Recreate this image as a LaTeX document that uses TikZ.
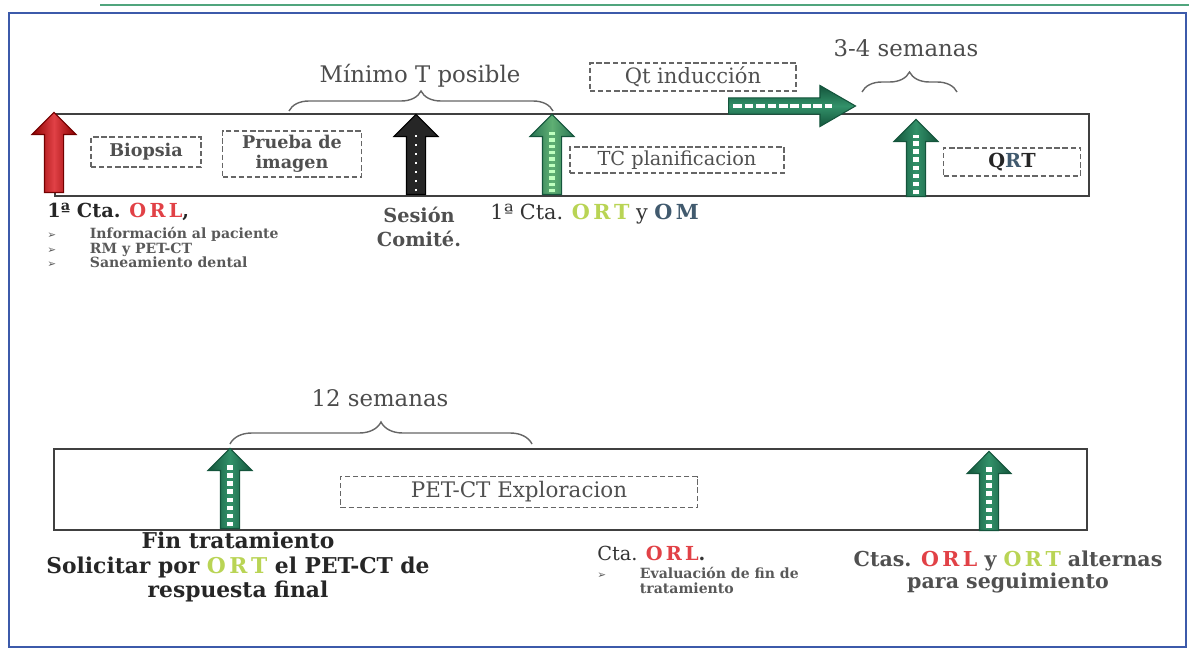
\documentclass[tikz,border=0pt]{standalone}
\usepackage{fontspec}
\setmainfont{DejaVu Serif}
\newfontfamily\symfont{DejaVu Sans}
\usetikzlibrary{positioning,shapes.arrows,decorations.pathreplacing}

\definecolor{frameblue}{RGB}{60,90,170}
\definecolor{framegreen}{RGB}{80,165,125}
\definecolor{orlred}{RGB}{225,65,70}
\definecolor{ortgreen}{RGB}{185,212,85}
\definecolor{omblue}{RGB}{65,90,110}
\definecolor{arrgreen}{RGB}{50,145,105}
\definecolor{arrgreendk}{RGB}{20,85,60}
\definecolor{arrlight}{RGB}{95,175,115}
\definecolor{txtgray}{RGB}{80,80,80}

\def\u{0.02cm}
\newcommand{\orl}{\textcolor{orlred}{O\,R\,L}}
\newcommand{\ort}{\textcolor{ortgreen}{O\,R\,T}}
\newcommand{\om}{\textcolor{omblue}{O\,M}}
\newcommand{\tip}{{\symfont\fontsize{6}{6}\selectfont ➢}}

\tikzset{
  timebox/.style={draw=black!75, line width=0.8pt},
  stagebox/.style={draw=black!60, dash pattern=on 3pt off 1.6pt, line width=1pt, inner sep=0pt,
    font=\bfseries\fontsize{10}{11.5}\selectfont, text=txtgray, align=center},
  markarrow/.style={single arrow, shape border rotate=90, inner xsep=9*\u, inner ysep=9*\u,
    anchor=tail, minimum width=38*\u, line width=0.6pt},
  greenarrow/.style={markarrow, draw=arrgreendk, left color=arrgreendk,
    right color=arrgreendk, middle color=arrgreen},
  stripes/.style={white, line width=3.2pt, dash pattern=on 2.6pt off 2pt,
    shorten <=1.5pt, shorten >=9pt},
  lbl/.style={inner sep=0pt, font=\bfseries\fontsize{11}{13.5}\selectfont, text=black!85},
  note/.style={inner sep=0pt, font=\bfseries\fontsize{8}{7.6}\selectfont, text=black!65},
  span/.style={decorate, decoration={brace, amplitude=#1}, draw=black!60, line width=0.8pt},
  spanlbl/.style={inner sep=0pt, font=\fontsize{13}{15}\selectfont, text=black!70}
}

\begin{document}
\begin{tikzpicture}[x=0.02cm, y=-0.02cm]
\useasboundingbox (0,0) rectangle (1189,652);

% outer frame
\draw[framegreen, line width=1.2pt] (100,5) -- (1189,5);
\draw[frameblue, line width=1.5pt] (9,13) rectangle (1186,647);

% ---------- upper timeline ----------
\draw[timebox] (55,114) rectangle (1089,196);

\node[stagebox, minimum width=110*\u, minimum height=30*\u] (biopsia) at (146,152) {Biopsia};
\node[stagebox, minimum width=139*\u, minimum height=46*\u] (prueba) at (292,154) {Prueba de\\imagen};
\node[stagebox, minimum width=214*\u, minimum height=26*\u, font=\fontsize{11}{13}\selectfont] (tcplan) at (677,160) {TC planificacion};
\node[stagebox, minimum width=137*\u, minimum height=28*\u, text=black!85, font=\bfseries\fontsize{11}{13}\selectfont] (qrt) at (1012,162) {Q\textcolor{omblue}{R}T};
\node[stagebox, minimum width=206*\u, minimum height=28*\u, font=\fontsize{12}{14}\selectfont] (qtind) at (693,77) {Qt inducción};

% stage arrows
\node[markarrow, draw=red!45!black, left color=red!55!black, right color=red!55!black,
  middle color=orlred, minimum height=80*\u] (orl1) at (54,193) {};
\node[markarrow, draw=black, fill=black!85, minimum height=80*\u] (comite) at (416,195) {};
\draw[white, line width=1.4pt, dash pattern=on 1.2pt off 4pt, shorten <=2pt, shorten >=8pt]
  (comite.tail) -- (comite.tip);
\node[markarrow, draw=arrgreendk, left color=arrgreen!80!black, right color=arrgreen!80!black,
  middle color=arrlight, minimum height=80*\u] (ort1) at (552,195) {};
\draw[stripes, green!25, dash pattern=on 2pt off 1.6pt] (ort1.tail) -- (ort1.tip);
\node[greenarrow, minimum height=77*\u] (qrtstart) at (916,197) {};
\draw[stripes] (qrtstart.tail) -- (qrtstart.tip);

% induction arrow
\node[single arrow, inner xsep=0pt, inner ysep=7.5*\u, anchor=tail, minimum width=23*\u,
  single arrow tip angle=60, minimum height=127*\u,
  draw=arrgreendk, top color=arrgreendk, bottom color=arrgreendk, middle color=arrgreen,
  line width=0.6pt] (induc) at (728,106) {};
\draw[white, line width=2pt, dash pattern=on 5pt off 1.5pt, shorten <=3pt, shorten >=14pt]
  (induc.tail) -- (induc.tip);

% spans
\coordinate (minA) at (289,111);
\coordinate (minB) at (553,111);
\draw[span=0.4cm] (minA) -- (minB);
\node[spanlbl] (minlbl) at (420,76) {Mínimo T posible};
\coordinate (semA) at (862,92);
\coordinate (semB) at (957,92);
\draw[span=0.4cm] (semA) -- (semB);
\node[spanlbl] (semlbl) at (906,48) {3-4 semanas};

% labels under upper timeline
\node[lbl, anchor=west] (cta1) at (47,212) {1ª Cta. \orl,};
\node[note, anchor=north west] (info) at (47,227) {%
  \begin{tabular}{@{}l@{\hspace{2.4em}}l@{}}
  \tip & Información al paciente\\
  \tip & RM y PET-CT\\
  \tip & Saneamiento dental
  \end{tabular}};
\node[lbl, text=txtgray, align=center, font=\bfseries\fontsize{11}{14}\selectfont] (sesion) at (419,227) {Sesión\\Comité.};
\node[lbl, anchor=west, font=\fontsize{11.8}{13}\selectfont, text=black!80] (cta2) at (490,214) {1ª Cta. \textbf{\ort} y \textbf{\om}};

% ---------- lower timeline ----------
\draw[timebox] (54,449) rectangle (1087,530);

\node[stagebox, minimum width=357*\u, minimum height=31*\u, font=\fontsize{12.2}{14}\selectfont] (petct) at (519,492) {PET-CT Exploracion};

\node[greenarrow, minimum height=80*\u] (fintrat) at (230,529) {};
\draw[stripes] (fintrat.tail) -- (fintrat.tip);
\node[greenarrow, minimum height=79*\u] (seguim) at (989,531) {};
\draw[stripes] (seguim.tail) -- (seguim.tip);

\coordinate (wkA) at (230,444);
\coordinate (wkB) at (532,444);
\draw[span=0.44cm] (wkA) -- (wkB);
\node[spanlbl] (wklbl) at (380,398) {12 semanas};

\node[lbl, align=center, font=\bfseries\fontsize{12.4}{14}\selectfont] (finlbl) at (238,567)
  {Fin tratamiento\\Solicitar por \ort{} el PET-CT de\\respuesta final};
\node[lbl, anchor=west, font=\fontsize{11}{13}\selectfont, text=black!80] (cta3) at (597,553) {Cta. \textbf{\orl.}};
\node[note, anchor=north west] (evalnote) at (597,567) {%
  \begin{tabular}{@{}l@{\hspace{2.4em}}l@{}}
  \tip & Evaluación de fin de\\
       & tratamiento
  \end{tabular}};
\node[lbl, align=center, text=txtgray, font=\bfseries\fontsize{11.7}{12.5}\selectfont] (ctas) at (1008,572)
  {Ctas. \orl{} y \ort{} alternas\\para seguimiento};

\end{tikzpicture}
\end{document}
